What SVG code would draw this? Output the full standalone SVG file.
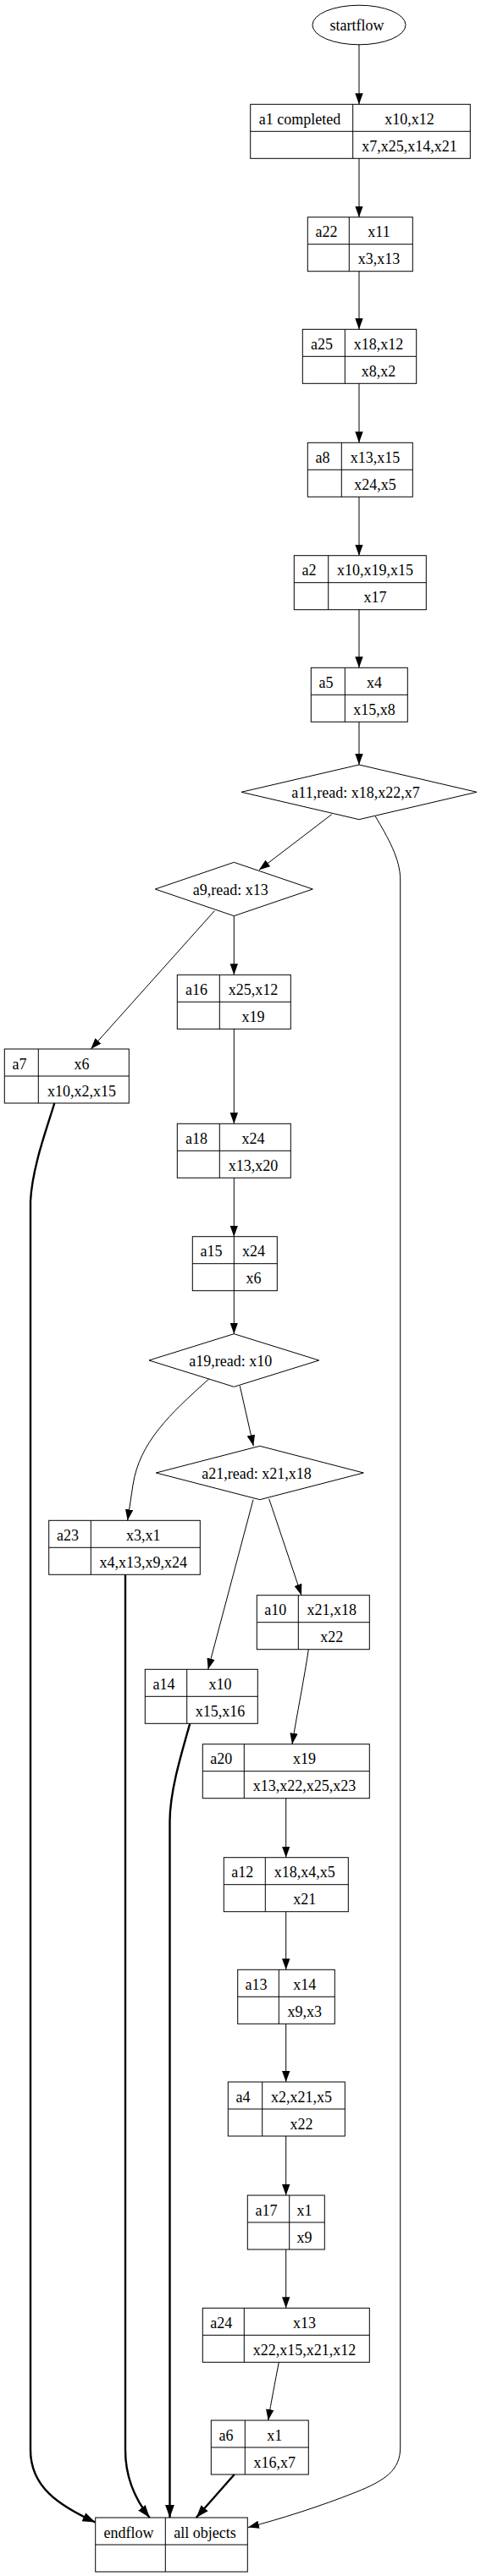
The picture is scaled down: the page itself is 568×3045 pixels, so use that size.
<svg xmlns="http://www.w3.org/2000/svg" width="568" height="3045" viewBox="0 0 568 3045">
<style>
  .s { fill: none; stroke: #000; stroke-width: 1; }
  .e { fill: none; stroke: #000; stroke-width: 1; }
  .b { fill: none; stroke: #000; stroke-width: 2.4; }
  text { font-family: "Liberation Serif", "Times New Roman", serif; font-size: 18px; fill: #000; text-anchor: middle; }
</style>
<defs>
  <marker id="ah" viewBox="0 0 13 10" refX="13" refY="5" markerWidth="13" markerHeight="10" markerUnits="userSpaceOnUse" orient="auto">
    <path d="M0,0.3 L13,5 L0,9.7 Z" fill="#000"/>
  </marker>
  <marker id="ahb" viewBox="0 0 15 12" refX="15" refY="6" markerWidth="15" markerHeight="12" markerUnits="userSpaceOnUse" orient="auto">
    <path d="M0,0.6 L15,6 L0,11.4 Z" fill="#000"/>
  </marker>
</defs>
<rect width="568" height="3045" fill="#fff"/>

<g id="edges">
  <path class="e" marker-end="url(#ah)" d="M424,52.7 L424,123.3"/>
  <path class="e" marker-end="url(#ah)" d="M424,187.3 L424,256.7"/>
  <path class="e" marker-end="url(#ah)" d="M424,320.7 L424,389.3"/>
  <path class="e" marker-end="url(#ah)" d="M424,453.3 L424,523.3"/>
  <path class="e" marker-end="url(#ah)" d="M424,587.3 L424,656.7"/>
  <path class="e" marker-end="url(#ah)" d="M424,720.7 L424,789.3"/>
  <path class="e" marker-end="url(#ah)" d="M424,853.3 L424,904"/>
  <path class="e" marker-end="url(#ah)" d="M391.7,962.7 L306,1028.3"/>
  <path class="e" marker-end="url(#ah)" d="M443.3,965 C458,990 472.7,1015 472.7,1040 L472.7,2893 C472.7,2920 455,2932 420,2946 C380,2962 330,2978 293,2987.5"/>
  <path class="e" marker-end="url(#ah)" d="M276.3,1082.7 L276.3,1152.3"/>
  <path class="e" marker-end="url(#ah)" d="M253.3,1076.7 L107.3,1240"/>
  <path class="b" marker-end="url(#ahb)" d="M64.3,1304 C55,1335 38,1380 36,1420 L36,2896 C36,2940 70,2962 112.5,2981.5"/>
  <path class="e" marker-end="url(#ah)" d="M276.3,1216 L276.3,1328.3"/>
  <path class="e" marker-end="url(#ah)" d="M276.3,1392.3 L276.3,1461.7"/>
  <path class="e" marker-end="url(#ah)" d="M276.3,1525.7 L276.3,1576.7"/>
  <path class="e" marker-end="url(#ah)" d="M246.7,1630 C200,1672 165,1705 157,1755 L150.7,1797.3"/>
  <path class="e" marker-end="url(#ah)" d="M283.3,1638.3 L299.3,1709.3"/>
  <path class="e" marker-end="url(#ah)" d="M317.7,1771.7 L356,1885.7"/>
  <path class="e" marker-end="url(#ah)" d="M299,1772.7 L245.7,1973.3"/>
  <path class="b" marker-end="url(#ahb)" d="M148,1861.3 L148,2896 C148,2930 160,2955 176.7,2976"/>
  <path class="e" marker-end="url(#ah)" d="M364.3,1949.7 C360,1980 350,2030 345,2061.7"/>
  <path class="b" marker-end="url(#ahb)" d="M224.3,2037.3 C212,2080 200.5,2120 200.5,2153 L200.5,2976"/>
  <path class="e" marker-end="url(#ah)" d="M337.7,2125.7 L337.7,2195.7"/>
  <path class="e" marker-end="url(#ah)" d="M337.7,2259.7 L337.7,2328.3"/>
  <path class="e" marker-end="url(#ah)" d="M337.7,2392.3 L337.7,2461"/>
  <path class="e" marker-end="url(#ah)" d="M337.7,2525 L337.7,2595"/>
  <path class="e" marker-end="url(#ah)" d="M337.7,2659 L337.7,2728.3"/>
  <path class="e" marker-end="url(#ah)" d="M329.3,2792.3 C325,2815 320,2840 316.7,2861"/>
  <path class="b" marker-end="url(#ahb)" d="M276.7,2925 L231.7,2976"/>
</g>

<g id="startflow">
  <ellipse class="s" cx="424" cy="29.5" rx="55" ry="23.3"/>
  <text x="421.5" y="36">startflow</text>
</g>

<g id="a1">
  <rect class="s" x="295.7" y="123.3" width="259.6" height="64"/>
  <path class="s" d="M416.7,123.3 V187.3 M295.7,155.3 H555.3"/>
  <text x="354" y="146.8">a1 completed</text>
  <text x="483.5" y="146.8">x10,x12</text>
  <text x="483.5" y="178.8">x7,x25,x14,x21</text>
</g>

<g id="a22">
  <rect class="s" x="363.3" y="256.7" width="124" height="64"/>
  <path class="s" d="M412.3,256.7 V320.7 M363.3,288.7 H487.3"/>
  <text x="385.5" y="280.2">a22</text>
  <text x="447.5" y="280.2">x11</text>
  <text x="447.5" y="312.2">x3,x13</text>
</g>

<g id="a25">
  <rect class="s" x="357.3" y="389.3" width="134.4" height="64"/>
  <path class="s" d="M407.3,389.3 V453.3 M357.3,421.3 H491.7"/>
  <text x="380" y="412.8">a25</text>
  <text x="447" y="412.8">x18,x12</text>
  <text x="447" y="444.8">x8,x2</text>
</g>

<g id="a8">
  <rect class="s" x="363.3" y="523.3" width="124" height="64"/>
  <path class="s" d="M403.3,523.3 V587.3 M363.3,555.3 H487.3"/>
  <text x="381" y="546.8">a8</text>
  <text x="443" y="546.8">x13,x15</text>
  <text x="443" y="578.8">x24,x5</text>
</g>

<g id="a2">
  <rect class="s" x="347.3" y="656.7" width="156" height="64"/>
  <path class="s" d="M387.7,656.7 V720.7 M347.3,688.7 H503.3"/>
  <text x="365" y="680.2">a2</text>
  <text x="443" y="680.2">x10,x19,x15</text>
  <text x="443" y="712.2">x17</text>
</g>

<g id="a5">
  <rect class="s" x="367.3" y="789.3" width="114" height="64"/>
  <path class="s" d="M407.3,789.3 V853.3 M367.3,821.3 H481.3"/>
  <text x="385" y="812.8">a5</text>
  <text x="442" y="812.8">x4</text>
  <text x="442" y="844.8">x15,x8</text>
</g>

<g id="a11">
  <polygon class="s" points="424,904 563,936.3 424,968.7 285,936.3"/>
  <text x="420" y="943.3">a11,read: x18,x22,x7</text>
</g>

<g id="a9">
  <polygon class="s" points="276.3,1019.3 369.3,1051 276.3,1082.7 183.3,1051"/>
  <text x="272.3" y="1058.3">a9,read: x13</text>
</g>

<g id="a16">
  <rect class="s" x="209.3" y="1152.3" width="134" height="64"/>
  <path class="s" d="M259.3,1152.3 V1216.3 M209.3,1184.3 H343.3"/>
  <text x="232" y="1175.8">a16</text>
  <text x="299" y="1175.8">x25,x12</text>
  <text x="299" y="1207.8">x19</text>
</g>

<g id="a7">
  <rect class="s" x="5.3" y="1240" width="147" height="64"/>
  <path class="s" d="M45.3,1240 V1304 M5.3,1272 H152.3"/>
  <text x="23" y="1263.5">a7</text>
  <text x="96.5" y="1263.5">x6</text>
  <text x="96.5" y="1295.5">x10,x2,x15</text>
</g>

<g id="a18">
  <rect class="s" x="209.3" y="1328.3" width="134" height="64"/>
  <path class="s" d="M259.3,1328.3 V1392.3 M209.3,1360.3 H343.3"/>
  <text x="232" y="1351.8">a18</text>
  <text x="299" y="1351.8">x24</text>
  <text x="299" y="1383.8">x13,x20</text>
</g>

<g id="a15">
  <rect class="s" x="227.3" y="1461.7" width="100" height="64"/>
  <path class="s" d="M276.3,1461.7 V1525.7 M227.3,1493.7 H327.3"/>
  <text x="249.5" y="1485.2">a15</text>
  <text x="299.5" y="1485.2">x24</text>
  <text x="299.5" y="1517.2">x6</text>
</g>

<g id="a19">
  <polygon class="s" points="276.3,1576.7 376.7,1608 276.3,1639.3 176,1608"/>
  <text x="272.3" y="1615">a19,read: x10</text>
</g>

<g id="a21">
  <polygon class="s" points="306.8,1709.3 429.3,1741 306.8,1772.7 184.3,1741"/>
  <text x="303" y="1748.3">a21,read: x21,x18</text>
</g>

<g id="a23">
  <rect class="s" x="57.7" y="1797.3" width="178.6" height="64"/>
  <path class="s" d="M107.3,1797.3 V1861.3 M57.7,1829.3 H236.3"/>
  <text x="80" y="1820.8">a23</text>
  <text x="169.3" y="1820.8">x3,x1</text>
  <text x="169.3" y="1852.8">x4,x13,x9,x24</text>
</g>

<g id="a10">
  <rect class="s" x="303.3" y="1885.7" width="133" height="64"/>
  <path class="s" d="M352.3,1885.7 V1949.7 M303.3,1917.7 H436.3"/>
  <text x="325.3" y="1909.2">a10</text>
  <text x="391.8" y="1909.2">x21,x18</text>
  <text x="391.8" y="1941.2">x22</text>
</g>

<g id="a14">
  <rect class="s" x="171.3" y="1973.3" width="133" height="64"/>
  <path class="s" d="M220.7,1973.3 V2037.3 M171.3,2005.3 H304.3"/>
  <text x="193.5" y="1996.8">a14</text>
  <text x="260" y="1996.8">x10</text>
  <text x="260" y="2028.8">x15,x16</text>
</g>

<g id="a20">
  <rect class="s" x="239.3" y="2061.7" width="197" height="64"/>
  <path class="s" d="M288.3,2061.7 V2125.7 M239.3,2093.7 H436.3"/>
  <text x="261.3" y="2085.2">a20</text>
  <text x="359.5" y="2085.2">x19</text>
  <text x="359.5" y="2117.2">x13,x22,x25,x23</text>
</g>

<g id="a12">
  <rect class="s" x="264.3" y="2195.7" width="147" height="64"/>
  <path class="s" d="M313.3,2195.7 V2259.7 M264.3,2227.7 H411.3"/>
  <text x="286.3" y="2219.2">a12</text>
  <text x="359.8" y="2219.2">x18,x4,x5</text>
  <text x="359.8" y="2251.2">x21</text>
</g>

<g id="a13">
  <rect class="s" x="280.7" y="2328.3" width="114.6" height="64"/>
  <path class="s" d="M329.3,2328.3 V2392.3 M280.7,2360.3 H395.3"/>
  <text x="302.5" y="2351.8">a13</text>
  <text x="359.8" y="2351.8">x14</text>
  <text x="359.8" y="2383.8">x9,x3</text>
</g>

<g id="a4">
  <rect class="s" x="269.3" y="2461" width="138" height="64"/>
  <path class="s" d="M309.7,2461 V2525 M269.3,2493 H407.3"/>
  <text x="287" y="2484.5">a4</text>
  <text x="356" y="2484.5">x2,x21,x5</text>
  <text x="356" y="2516.5">x22</text>
</g>

<g id="a17">
  <rect class="s" x="292.3" y="2595" width="91" height="64"/>
  <path class="s" d="M341.7,2595 V2659 M292.3,2627 H383.3"/>
  <text x="314.5" y="2618.5">a17</text>
  <text x="359.5" y="2618.5">x1</text>
  <text x="359.5" y="2650.5">x9</text>
</g>

<g id="a24">
  <rect class="s" x="239.3" y="2728.3" width="197" height="64"/>
  <path class="s" d="M288.3,2728.3 V2792.3 M239.3,2760.3 H436.3"/>
  <text x="261.3" y="2751.8">a24</text>
  <text x="359.5" y="2751.8">x13</text>
  <text x="359.5" y="2783.8">x22,x15,x21,x12</text>
</g>

<g id="a6">
  <rect class="s" x="249.3" y="2861" width="115" height="64"/>
  <path class="s" d="M289.3,2861 V2925 M249.3,2893 H364.3"/>
  <text x="267" y="2884.5">a6</text>
  <text x="324.3" y="2884.5">x1</text>
  <text x="324.3" y="2916.5">x16,x7</text>
</g>

<g id="endflow">
  <rect class="s" x="112.7" y="2976" width="179.6" height="64"/>
  <path class="s" d="M195.3,2976 V3040 M112.7,3008 H292.3"/>
  <text x="152" y="2999.5">endflow</text>
  <text x="242" y="2999.5">all objects</text>
</g>
</svg>
